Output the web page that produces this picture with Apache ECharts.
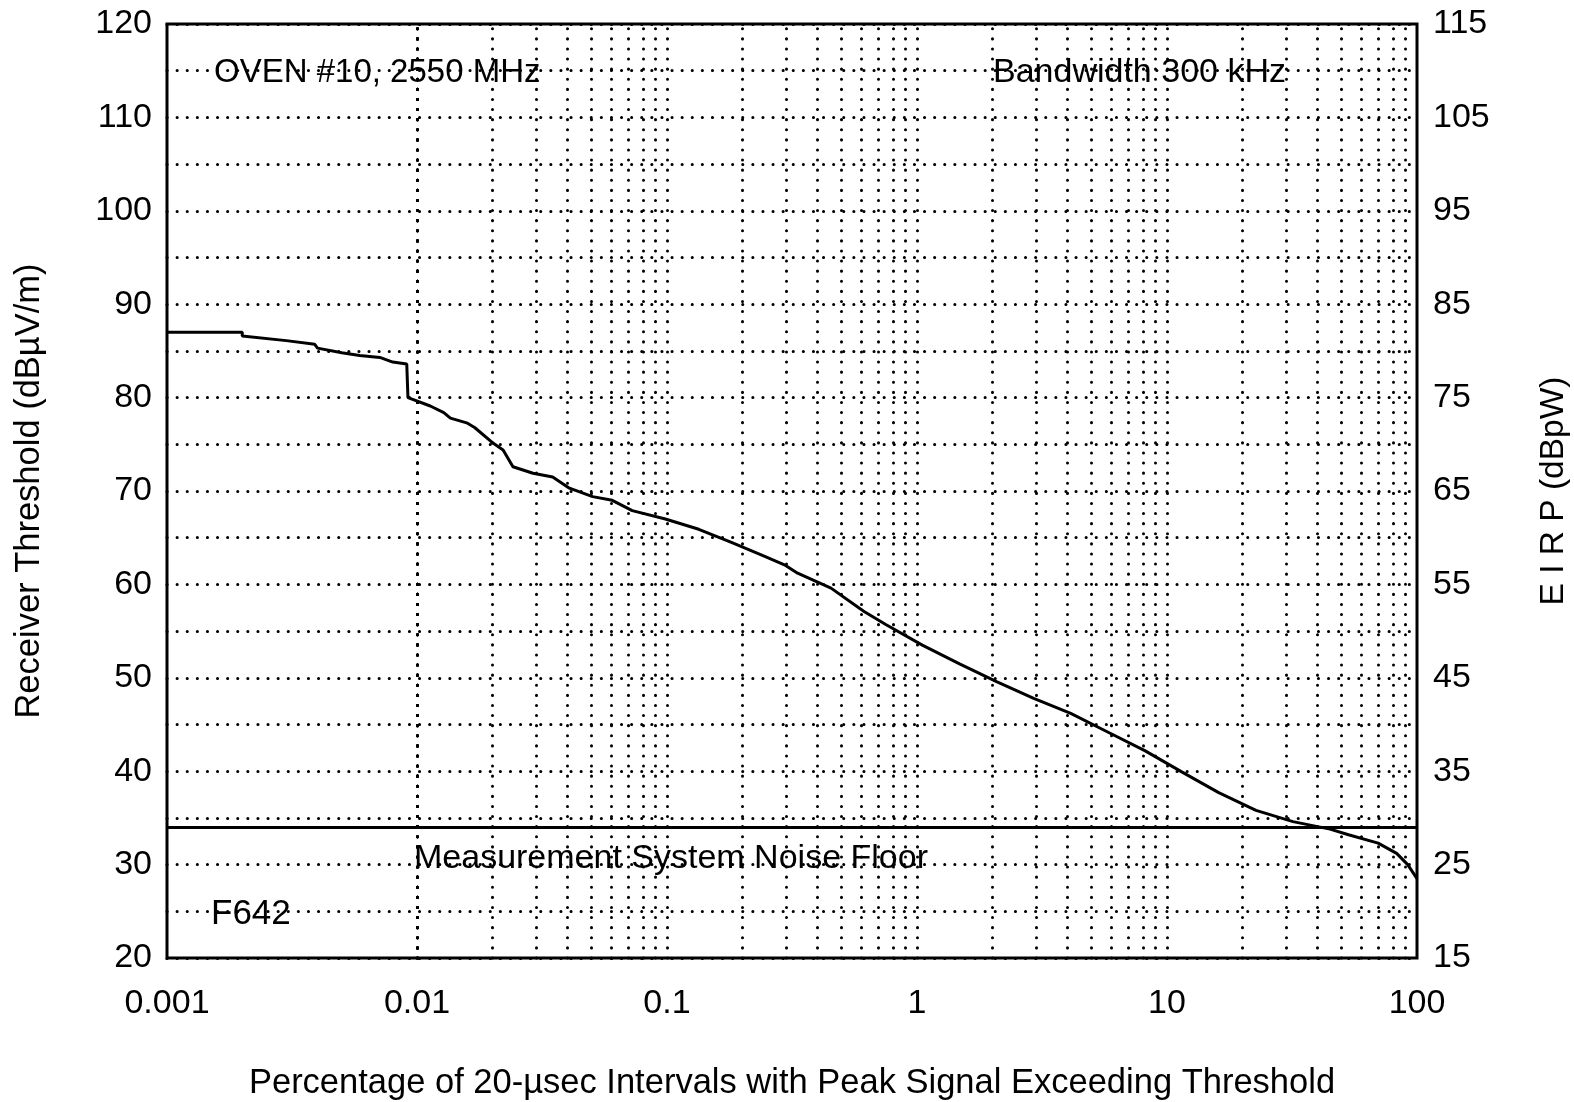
<!DOCTYPE html>
<html>
<head>
<meta charset="utf-8">
<script src="https://cdn.jsdelivr.net/npm/echarts@6/dist/echarts.min.js"></script>
<style>
html,body{margin:0;padding:0;background:#fff;}
#chart{width:1574px;height:1102px;}
</style>
</head>
<body>
<div id="chart"></div>
<script>
// ---- data ----
const xTickLabels = ['0.001', '0.01', '0.1', '1', '10', '100'];
const percent = [0.001, 0.002, 0.002, 0.003, 0.0039, 0.004, 0.005, 0.0059, 0.0071, 0.008, 0.0091, 0.0092,
  0.0113, 0.0128, 0.0136, 0.0158, 0.017, 0.0202, 0.0221, 0.0242, 0.0291, 0.0349, 0.0407, 0.0504, 0.0604,
  0.0726, 0.0985, 0.134, 0.181, 0.246, 0.295, 0.333, 0.453, 0.614, 0.75, 1.05, 1.48, 2.08, 2.93, 4.12,
  5.79, 8.15, 11.5, 16.1, 22.7, 31.9, 44.9, 53.2, 69.9, 82.9, 91.8, 100];
const threshold = [87.0, 87.0, 86.6, 86.1, 85.7, 85.3, 84.8, 84.5, 84.3, 83.8, 83.6, 80.0,
  79.1, 78.4, 77.8, 77.3, 76.8, 75.1, 74.4, 72.6, 71.9, 71.5, 70.3, 69.4, 69.0,
  67.9, 67.0, 65.9, 64.5, 63.0, 62.1, 61.2, 59.6, 57.1, 55.7, 53.5, 51.5, 49.6, 47.8, 46.2,
  44.2, 42.2, 39.9, 37.7, 35.8, 34.6, 33.8, 33.2, 32.3, 31.2, 30.0, 28.5];
const noiseFloor = 34;
const decades = [0.001, 0.01, 0.1, 1, 10];
const minorSteps = [2, 3, 4, 5, 6, 7, 8, 9, 10];
const annotations = [
  { text: 'OVEN #10, 2550 MHz', x: 214, y: 73, size: 33 },
  { text: 'Bandwidth 300 kHz', x: 993, y: 73, size: 34 },
  { text: 'Measurement System Noise Floor', x: 414, y: 859, size: 34 },
  { text: 'F642', x: 211, y: 914, size: 35 }
];

const gridXs = [];
decades.forEach(d => minorSteps.forEach(m => { const v = +(d * m).toPrecision(3); if (v < 100) gridXs.push(v); }));

const dotted = { color: '#000', width: 3, type: [0.1, 10], cap: 'round' };
const narrow = '"Liberation Sans Narrow", "Liberation Sans", Arial, sans-serif';
const regular = '"Liberation Sans", Arial, sans-serif';

const chart = echarts.init(document.getElementById('chart'), null, { renderer: 'canvas' });
chart.setOption({
  animation: false,
  backgroundColor: '#fff',
  grid: { left: 167, right: 157, top: 24, bottom: 144, containLabel: false, outerBoundsMode: 'none',
    show: true, borderColor: '#000', borderWidth: 3, backgroundColor: 'transparent' },
  xAxis: {
    type: 'log', logBase: 10, min: 0.001, max: 100,
    axisLine: { show: false }, axisTick: { show: false }, splitLine: { show: false },
    axisLabel: {
      margin: 29, color: '#000', fontFamily: narrow, fontSize: 34,
      formatter: v => xTickLabels[Math.round(Math.log10(v)) + 3]
    },
    name: 'Percentage of 20-\u00b5sec Intervals with Peak Signal Exceeding Threshold',
    nameLocation: 'middle', nameGap: 108,
    nameTextStyle: { color: '#000', fontFamily: narrow, fontSize: 34.5 }
  },
  yAxis: [{
    type: 'value', min: 20, max: 120, interval: 5, position: 'left',
    axisLine: { show: false }, axisTick: { show: false },
    splitLine: { show: true, lineStyle: dotted },
    axisLabel: { margin: 15, color: '#000', fontFamily: narrow, fontSize: 34,
      formatter: v => (v % 10 === 0 ? String(v) : '') },
    name: 'Receiver Threshold (dB\u00b5V/m)', nameLocation: 'middle', nameGap: 120, nameRotate: 90,
    nameTextStyle: { color: '#000', fontFamily: narrow, fontSize: 34.5 }
  }, {
    type: 'value', min: 15, max: 115, interval: 5, position: 'right',
    axisLine: { show: false }, axisTick: { show: false }, splitLine: { show: false },
    axisLabel: { margin: 16, color: '#000', fontFamily: narrow, fontSize: 34,
      formatter: v => ((v - 15) % 10 === 0 ? String(v) : '') },
    name: 'E I R P (dBpW)', nameLocation: 'middle', nameGap: 120, nameRotate: 90,
    nameTextStyle: { color: '#000', fontFamily: narrow, fontSize: 33.5 }
  }],
  series: [{
    type: 'line', yAxisIndex: 0,
    data: percent.map((p, i) => [p, threshold[i]]),
    showSymbol: false, symbol: 'none',
    lineStyle: { color: '#000', width: 3 },
    silent: true,
    markLine: {
      silent: true, symbol: ['none', 'none'], label: { show: false },
      data: gridXs.map(v => ({ xAxis: v, lineStyle: dotted }))
        .concat([{ yAxis: noiseFloor, lineStyle: { color: '#000', width: 3, type: 'solid' } }])
    },
    z: 5
  }],
  graphic: annotations.map(a => ({
    type: 'text', x: a.x, y: a.y, z: 10,
    style: { text: a.text, fill: '#000', font: a.size + 'px ' + regular, verticalAlign: 'middle', align: 'left' }
  }))
});
</script>
</body>
</html>
